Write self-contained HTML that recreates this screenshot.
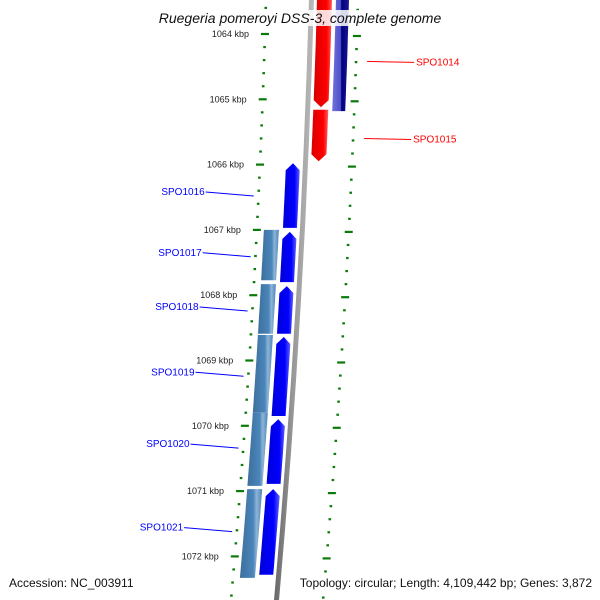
<!DOCTYPE html>
<html><head><meta charset="utf-8"><style>
body{margin:0;background:#fff;}
svg{display:block;font-family:"Liberation Sans","DejaVu Sans",sans-serif;}
</style></head><body>
<svg id="map" width="600" height="600" viewBox="0 0 600 600">
<defs>
<linearGradient id="gSteel" x1="0" x2="1"><stop offset="0" stop-color="#3d6f9c"/><stop offset="0.6" stop-color="#4a86bb"/><stop offset="0.75" stop-color="#8fb4d6"/><stop offset="1" stop-color="#4a86bb"/></linearGradient>
<linearGradient id="gBlue" x1="0" x2="1"><stop offset="0" stop-color="#0000d8"/><stop offset="0.7" stop-color="#0000ff"/><stop offset="1" stop-color="#6060ff"/></linearGradient>
<linearGradient id="gRed" x1="0" x2="1"><stop offset="0" stop-color="#d80000"/><stop offset="0.7" stop-color="#ff0000"/><stop offset="1" stop-color="#ff6060"/></linearGradient>
<linearGradient id="gPurp" x1="0" x2="1"><stop offset="0" stop-color="#7070e0"/><stop offset="0.5" stop-color="#5050c8"/><stop offset="0.55" stop-color="#000080"/><stop offset="1" stop-color="#1a1a90"/></linearGradient>
<linearGradient id="gBack" x1="0" x2="1"><stop offset="0" stop-color="#666"/><stop offset="0.5" stop-color="#999"/><stop offset="1" stop-color="#bbb"/></linearGradient>
</defs>
<g id="layer"></g>
</svg>
<script>
// data (kbp)
const majorTicks=[1064,1065,1066,1067,1068,1069,1070,1071,1072];
const blueStarts=[1065.98,1067.03,1067.86,1068.64,1069.90,1070.97];
const blueEnds=[1066.97,1067.80,1068.59,1069.85,1070.89,1072.28];
const steelStarts=[1067.00,1067.83,1068.61,1069.80,1070.92+0.05];
const steelEnds=[1067.77,1068.59,1069.80,1070.92,1072.33];
const redStarts=[1063.3,1065.16];
const redEnds=[1065.12,1065.95];
const redNames=['SPO1014','SPO1015'];
const redLabelKbp=[1064.42,1065.6];
const blueNames=['SPO1016','SPO1017','SPO1018','SPO1019','SPO1020','SPO1021'];
const blueLabelKbp=[1066.42,1067.35,1068.18,1069.18,1070.28,1071.56];

const ns='http://www.w3.org/2000/svg';
const L=document.getElementById('layer');
function yOf(k){return 34+(k-1064)*65.3;}
function f(y){return -0.0283*y-0.00005*y*y;}
function mk(t,a){const e=document.createElementNS(ns,t);for(const k in a)e.setAttribute(k,a[k]);L.appendChild(e);return e;}
function shape(y1,y2,a,b,arrow){ // arrow: 'up','down',null
  const pts=[],n=8,h=7;
  let t1=y1,t2=y2;
  if(arrow==='up')t1=y1+h; if(arrow==='down')t2=y2-h;
  for(let i=0;i<=n;i++){const y=t1+(t2-t1)*i/n;pts.push([a+f(y),y]);}
  if(arrow==='down'){const y=y2;pts.push([(a+b)/2+f(y),y]);}
  for(let i=n;i>=0;i--){const y=t1+(t2-t1)*i/n;pts.push([b+f(y),y]);}
  if(arrow==='up'){const y=y1;pts.push([(a+b)/2+f(y),y]);}
  return pts.map(p=>p[0].toFixed(1)+','+p[1].toFixed(1)).join(' ');
}
// backbone
let bb=mk('polygon',{points:shape(-5,605,309,314,null),fill:'url(#gBack)'});


// ticks
for(let k=1063.4;k<=1072.8;k+=0.2){
  const kk=Math.round(k*10)/10;const y=yOf(kk);const maj=Math.abs(kk-Math.round(kk))<0.01;
  const xl=266+f(y);
  const tl=mk('line',{x1:xl-(maj?4:1.3),x2:xl+(maj?4:1.3),y1:y,y2:y,stroke:'#0a7a0a','stroke-width':2.2});
  
  
  const yr=y+2;const xr=358+f(yr);
  const tr=mk('line',{x1:xr-(maj?4:1.3),x2:xr+(maj?4:1.3),y1:yr,y2:yr,stroke:'#0a7a0a','stroke-width':2.2});
  
  
}
majorTicks.forEach(k=>{const y=yOf(k);
  const t=mk('text',{x:258+f(y)-8,y:y+3,'font-size':9,fill:'#222','text-anchor':'end'});t.textContent=k+' kbp';
  
  
});
// red genes
redStarts.forEach((s,i)=>{const p=mk('polygon',{points:shape(yOf(s),yOf(redEnds[i]),317,332,'down'),fill:'url(#gRed)'});
  
  
  const y=yOf(redLabelKbp[i]);
  const ln=mk('line',{x1:365+f(y)+4,x2:412+f(y)+4,y1:y,y2:y+1,stroke:'#f00','stroke-width':1});
  
  
  const t=mk('text',{x:414+f(y)+4,y:y+4,'font-size':10,fill:'#f00'});t.textContent=redNames[i];
  
  
});
const pu=mk('polygon',{points:shape(-5,yOf(1065.18),336,349,null),fill:'url(#gPurp)'});


// steel genes
steelStarts.forEach((s,i)=>{const p=mk('polygon',{points:shape(yOf(s),yOf(steelEnds[i]),273,288,null),fill:'url(#gSteel)'});
  
  
});
// blue genes
blueStarts.forEach((s,i)=>{const p=mk('polygon',{points:shape(yOf(s),yOf(blueEnds[i]),292,306,'up'),fill:'url(#gBlue)'});
  
  
  const y=yOf(blueLabelKbp[i]);
  const ln=mk('line',{x1:203+f(y)+10,x2:256+f(y)+5,y1:y,y2:y+4,stroke:'#00f','stroke-width':1});
  
  
  const t=mk('text',{x:202+f(y)+10,y:y+3,'font-size':10,fill:'#00f','text-anchor':'end'});t.textContent=blueNames[i];
  
  
});
// title & footer
function txt(x,y,s,sz,anc,name,it){
  const t=mk('text',{x:x,y:y,'font-size':sz,'text-anchor':anc,fill:'#111'});if(it)t.setAttribute('font-style','italic');t.textContent=s;
  const bbx=t.getBBox();const r=document.createElementNS(ns,'rect');
  r.setAttribute('x',bbx.x-2);r.setAttribute('y',bbx.y);r.setAttribute('width',bbx.width+4);r.setAttribute('height',bbx.height);r.setAttribute('fill','rgba(255,255,255,0.85)');
  L.insertBefore(r,t);
  
  
}
txt(300,23,'Ruegeria pomeroyi DSS-3, complete genome',14,'middle','chart-title',true);
txt(9,587,'Accession: NC_003911',12,'start','accession',false);
txt(592,587,'Topology: circular; Length: 4,109,442 bp; Genes: 3,872',12,'end','genome-info',false);
</script>
</body></html>
